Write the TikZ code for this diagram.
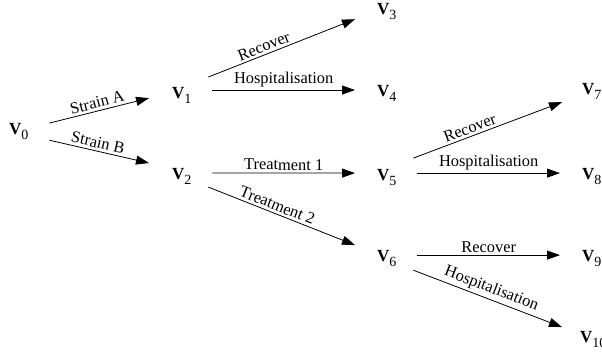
\documentclass[tikz,border=0pt]{standalone}
\usepackage{fontspec}
\setmainfont{Liberation Serif}
\usepackage{tikz}
\usetikzlibrary{arrows.meta}

\newcommand{\vstate}[1]{\textbf{V}\raisebox{-5pt}{\fontsize{14}{14}\selectfont #1}}

\tikzset{
  vnode/.style={inner sep=0pt, anchor=base west, font=\fontsize{17}{20}\selectfont},
  arr/.style={line width=0.8pt, -{Triangle[length=13pt,width=9pt]}},
  lab/.style={above, sloped, inner sep=2.5pt, font=\fontsize{16.4}{19}\selectfont}
}

\begin{document}
\begin{tikzpicture}[x=1pt,y=1pt]
	\useasboundingbox (0,0) rectangle (602,358); % Fixes the page size
	% Place the states V0 ... V10
	\foreach \n/\x/\y in {0/9/223, 1/172/259.5, 2/172/178, 3/377/343, 4/377/261,
	  5/377/177.5, 6/377/96, 7/582/263, 8/582/178, 9/582/96, 10/580/15}
	\node[vnode] (V\n) at (\x,\y) {\vstate{\n}};
	
	% First split: the two strains
	\draw[arr] ([xshift=20.7pt,yshift=8.9pt]V0.east) -- ([xshift=-23pt,yshift=-2.7pt]V1.west) node[lab,midway] {Strain A};
	\draw[arr] ([xshift=20.7pt,yshift=-8.2pt]V0.east) -- ([xshift=-23pt,yshift=13.9pt]V2.west) node[lab,pos=0.47] {Strain B};
	
	% Strain A outcomes
	\draw[arr] ([xshift=16.7pt,yshift=18.4pt]V1.east) -- ([xshift=-22pt,yshift=-7.2pt]V3.west) node[lab,pos=0.4] {Recover};
	\draw[arr] ([xshift=20.7pt,yshift=5.4pt]V1.east) -- ([xshift=-22pt,yshift=3.9pt]V4.west) node[lab,midway] {Hospitalisation};
	
	% Strain B treatments
	\draw[arr] ([xshift=20.7pt,yshift=3.9pt]V2.east) -- ([xshift=-22pt,yshift=4.4pt]V5.west) node[lab,midway] {Treatment 1};
	\draw[arr] ([xshift=16.7pt,yshift=-10.2pt]V2.east) -- ([xshift=-22pt,yshift=13.9pt]V6.west) node[lab,pos=0.45] {Treatment 2};
	
	% Treatment outcomes
	\draw[arr] ([xshift=16.7pt,yshift=19.4pt]V5.east) -- ([xshift=-20pt,yshift=-10.2pt]V7.west) node[lab,pos=0.4] {Recover};
	\draw[arr] ([xshift=20.7pt,yshift=4.4pt]V5.east) -- ([xshift=-22pt,yshift=3.9pt]V8.west) node[lab,midway] {Hospitalisation};
	\draw[arr] ([xshift=20.7pt,yshift=3.9pt]V6.east) -- ([xshift=-22pt,yshift=3.9pt]V9.west) node[lab,midway] {Recover};
	\draw[arr] ([xshift=16.7pt,yshift=-11.2pt]V6.east) -- ([xshift=-18pt,yshift=12.9pt]V10.west) node[lab,midway] {Hospitalisation};
\end{tikzpicture}
\end{document}
